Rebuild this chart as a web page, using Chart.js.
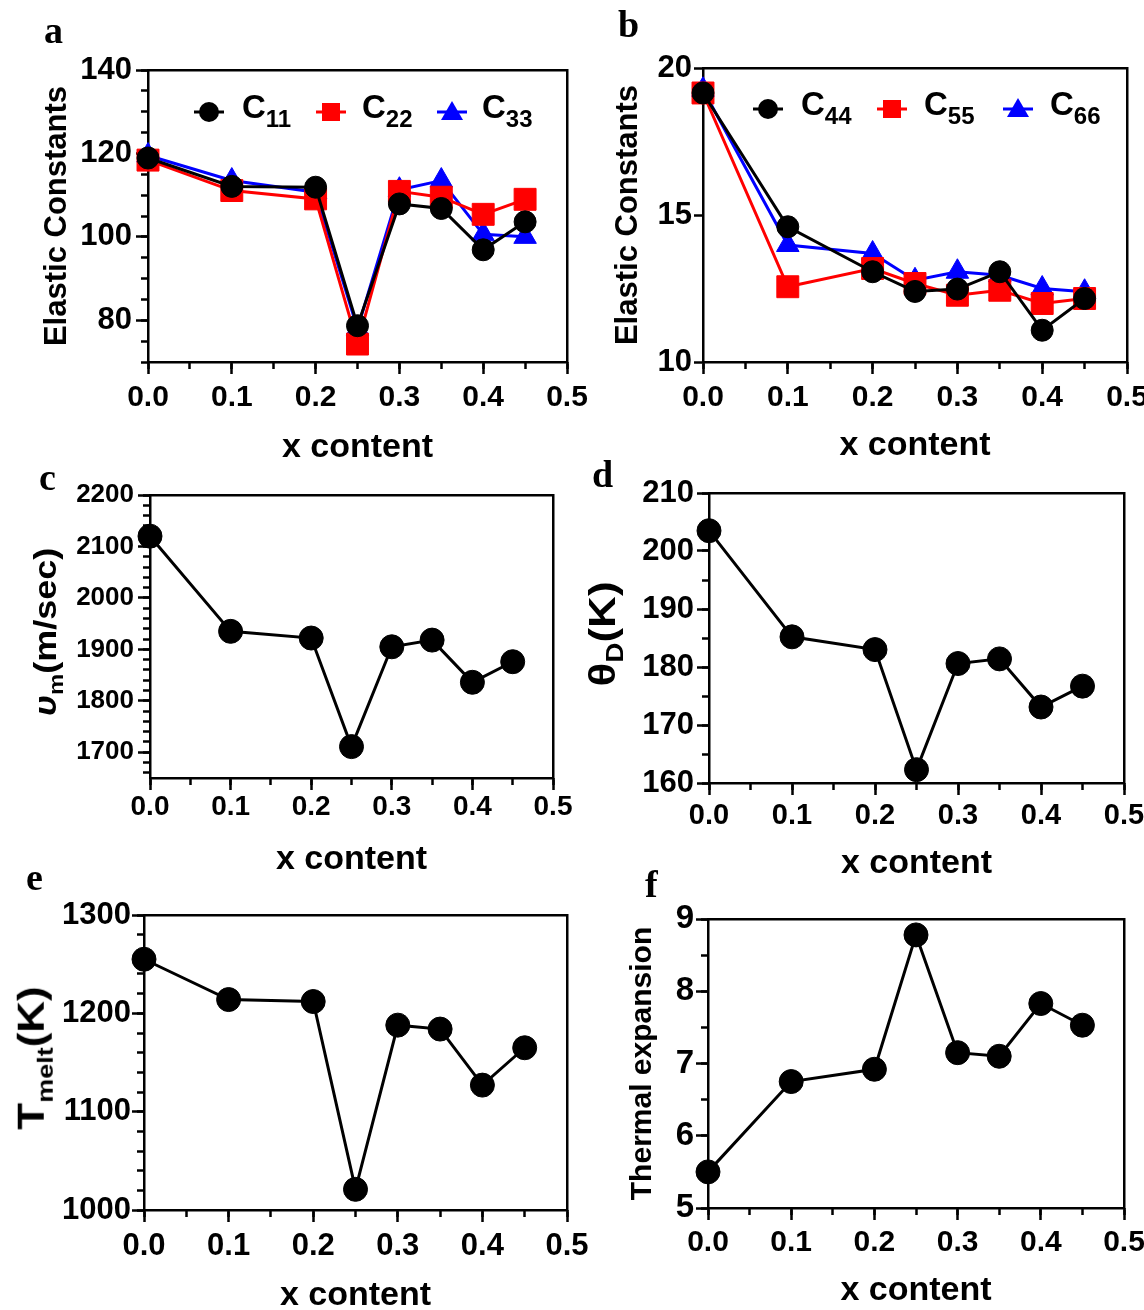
<!DOCTYPE html>
<html>
<head>
<meta charset="utf-8">
<script src="https://cdn.jsdelivr.net/npm/chart.js@4.4.1/dist/chart.umd.min.js"></script>
<style>
  html, body { margin:0; padding:0; background:#fff; overflow:hidden; }
  #page { position:relative; width:1144px; height:1310px; font-family:"Liberation Sans", Arial, sans-serif; font-weight:bold; color:#000; }
  .pane { position:absolute; }
  .pane canvas { display:block; }
  .tag { position:absolute; font-family:"Liberation Serif", "Times New Roman", serif; font-weight:bold; font-size:38px; line-height:38px; }
  .mk { position:absolute; line-height:0; }
  .lg { position:absolute; font-size:33px; line-height:33px; white-space:nowrap; }
  .lg .sub { font-size:24px; position:relative; top:9px; }
  .ytitle { position:absolute; white-space:nowrap; line-height:1; }
  .sub { position:relative; }
</style>
</head>
<body>
<div id="page">
  <div class="pane" style="left:0;top:0"><canvas id="ca" width="600" height="480"></canvas></div>
  <div class="pane" style="left:570px;top:0"><canvas id="cb" width="574" height="480"></canvas></div>
  <div class="pane" style="left:0;top:470px"><canvas id="cc" width="600" height="420"></canvas></div>
  <div class="pane" style="left:570px;top:470px"><canvas id="cd" width="574" height="420"></canvas></div>
  <div class="pane" style="left:0;top:880px"><canvas id="ce" width="600" height="440"></canvas></div>
  <div class="pane" style="left:570px;top:880px"><canvas id="cf" width="574" height="440"></canvas></div>

  <div class="tag" style="left:44px;top:11px">a</div>
  <div class="tag" style="left:618px;top:5px">b</div>
  <div class="tag" style="left:39px;top:458px">c</div>
  <div class="tag" style="left:592px;top:455px">d</div>
  <div class="tag" style="left:26px;top:858px">e</div>
  <div class="tag" style="left:645px;top:865px">f</div>

  <!-- legend a -->
  <div class="mk" style="left:194px;top:100px"><svg width="30" height="24"><line x1="0" y1="12" x2="30" y2="12" stroke="#000" stroke-width="3"/><circle cx="15" cy="12" r="10" fill="#000"/></svg></div>
  <div class="lg" style="left:242px;top:90px">C<span class="sub">11</span></div>
  <div class="mk" style="left:316px;top:100px"><svg width="30" height="24"><line x1="0" y1="12" x2="30" y2="12" stroke="#f00" stroke-width="3"/><rect x="6" y="3" width="18" height="18" fill="#f00"/></svg></div>
  <div class="lg" style="left:362px;top:90px">C<span class="sub">22</span></div>
  <div class="mk" style="left:437px;top:100px"><svg width="30" height="24"><line x1="0" y1="12" x2="30" y2="12" stroke="#00f" stroke-width="3"/><polygon points="15,1 4,20 26,20" fill="#00f"/></svg></div>
  <div class="lg" style="left:482px;top:90px">C<span class="sub">33</span></div>

  <!-- legend b -->
  <div class="mk" style="left:753px;top:97px"><svg width="30" height="24"><line x1="0" y1="12" x2="30" y2="12" stroke="#000" stroke-width="3"/><circle cx="15" cy="12" r="10" fill="#000"/></svg></div>
  <div class="lg" style="left:801px;top:87px">C<span class="sub">44</span></div>
  <div class="mk" style="left:877px;top:97px"><svg width="30" height="24"><line x1="0" y1="12" x2="30" y2="12" stroke="#f00" stroke-width="3"/><rect x="6" y="3" width="18" height="18" fill="#f00"/></svg></div>
  <div class="lg" style="left:924px;top:87px">C<span class="sub">55</span></div>
  <div class="mk" style="left:1003px;top:97px"><svg width="30" height="24"><line x1="0" y1="12" x2="30" y2="12" stroke="#00f" stroke-width="3"/><polygon points="15,1 4,20 26,20" fill="#00f"/></svg></div>
  <div class="lg" style="left:1050px;top:87px">C<span class="sub">66</span></div>

  <!-- y titles with subscripts -->
  <div class="ytitle" style="left:46px;top:632px;font-size:36px;transform:translate(-50%,-50%) rotate(-90deg) scaleY(0.85)"><i>υ</i><span class="sub" style="font-size:24px;top:8px">m</span>(m/sec)</div>
  <div class="ytitle" style="left:602px;top:634px;font-size:44px;transform:translate(-50%,-50%) rotate(-90deg) scaleY(0.85)">θ<span class="sub" style="font-size:28px;top:10px">D</span>(K)</div>
  <div class="ytitle" style="left:31px;top:1058px;font-size:44px;transform:translate(-50%,-50%) rotate(-90deg) scaleY(0.85)">T<span class="sub" style="font-size:27px;top:10px">melt</span>(K)</div>
</div>

<script>
const xContent = [0, 0.1, 0.2, 0.25, 0.3, 0.35, 0.4, 0.45];
const xTickLabels = ["0.0", "0.1", "0.2", "0.3", "0.4", "0.5"];

const c11 = [118.9, 112.1, 111.9, 78.7, 107.9, 106.8, 96.9, 103.6];
const c22 = [118.4, 111.1, 109.1, 74.3, 110.9, 109.5, 105.4, 109.0];
const c33 = [119.5, 113.5, 110.7, 78.0, 111.3, 113.5, 100.6, 100.0];

const c44 = [19.15, 14.6, 13.07, 12.4, 12.48, 13.07, 11.08, 12.16];
const c55 = [19.15, 12.56, 13.18, 12.67, 12.27, 12.44, 11.99, 12.16];
const c66 = [19.26, 13.98, 13.69, 12.78, 13.07, 12.95, 12.5, 12.39];

const soundVel = [2120, 1935, 1922, 1711, 1905, 1918, 1836, 1876];
const debyeT   = [203.5, 185.2, 183.0, 162.3, 180.6, 181.4, 173.1, 176.7];
const meltT    = [1255, 1214, 1212, 1021, 1188, 1184, 1127, 1165];
const thermExp = [5.5, 6.75, 6.92, 8.78, 7.15, 7.1, 7.83, 7.53];

const FONT = '"Liberation Sans", Arial, sans-serif';

function series(label, ys, color, shape, r){
  return {
    label, data: xContent.map((x, i) => ({ x, y: ys[i] })),
    borderColor: color, backgroundColor: color, borderWidth: 3,
    pointStyle: shape, pointRadius: r, pointBorderWidth: 1,
    pointBackgroundColor: color, pointBorderColor: color,
    tension: 0, clip: false, xAxisID: "x", yAxisID: "y"
  };
}

function font(size){ return { family: FONT, weight: "bold", size, lineHeight: 1 }; }

// o.area = [left, top, right, bottom] of plot box inside the canvas
function makePanel(id, datasets, o){
  const canvas = document.getElementById(id);
  const W = canvas.width, H = canvas.height;
  const a = o.area;
  const line = { display: true, color: "#000", width: 2.5 };
  const tickGrid = len => ({ display: true, drawOnChartArea: false, drawTicks: true, tickLength: len, tickColor: "#000", tickWidth: 2.5 });

  const scales = {
    x: {
      type: "linear", position: "bottom", weight: 1, min: 0, max: 0.5,
      border: line, grid: tickGrid(12),
      ticks: { stepSize: 0.1, padding: o.xPad, color: "#000", font: font(o.xSize), maxRotation: 0, autoSkip: false,
               callback: v => xTickLabels[Math.round(v * 10)] },
      title: { display: true, text: "x content", color: "#000", font: font(34), padding: { top: 0, bottom: o.xTitlePad } },
      afterFit: s => { s.height = H - a[3]; s.paddingLeft = 0; s.paddingRight = 0; }
    },
    xm: {
      type: "linear", axis: "x", position: "bottom", weight: 0, min: 0, max: 0.5,
      border: { display: false }, grid: tickGrid(7), ticks: { display: false, stepSize: 0.05 },
      afterFit: s => { s.height = 0; s.paddingLeft = 0; s.paddingRight = 0; }
    },
    y: {
      type: "linear", position: "left", weight: 1, min: o.yMin, max: o.yMax,
      border: line, grid: tickGrid(o.yTick || 12),
      ticks: { stepSize: o.yStep, includeBounds: false, padding: o.yPad, color: "#000", font: font(o.ySize),
               callback: v => String(Math.round(v)) },
      title: o.yTitle
        ? { display: true, text: o.yTitle, color: "#000", font: font(o.yTitleSize), padding: { top: o.yTitleX - o.yTitleSize / 2, bottom: 0 } }
        : { display: false },
      afterFit: s => { s.width = a[0]; }
    },
    x2: {
      type: "linear", axis: "x", position: "top", min: 0, max: 0.5,
      border: line, grid: { display: false }, ticks: { display: false },
      afterFit: s => { s.height = 0; s.paddingLeft = 0; s.paddingRight = 0; }
    },
    y2: {
      type: "linear", axis: "y", position: "right", min: o.yMin, max: o.yMax,
      border: line, grid: { display: false }, ticks: { display: false },
      afterFit: s => { s.width = 0; }
    }
  };
  if (o.yMinor){
    scales.ym = {
      type: "linear", axis: "y", position: "left", weight: 0, min: o.yMin, max: o.yMax,
      border: { display: false }, grid: tickGrid(7), ticks: { display: false, stepSize: o.yMinor, includeBounds: false },
      afterFit: s => { s.width = 0; }
    };
  }

  return new Chart(canvas.getContext("2d"), {
    type: "line",
    data: { datasets },
    options: {
      responsive: false, animation: false, devicePixelRatio: 1, events: [],
      layout: { padding: { left: 0, top: a[1], right: W - a[2], bottom: 0 } },
      plugins: { legend: { display: false }, tooltip: { enabled: false } },
      scales
    }
  });
}

makePanel("ca", [
  series("C11", c11, "#000", "circle", 11),
  series("C22", c22, "#f00", "rect", 15.5),
  series("C33", c33, "#00f", "triangle", 13)
], { area: [148, 70, 567, 362], yMin: 70, yMax: 140, yStep: 20, yMinor: 5, ySize: 31, yPad: 4,
     yTitle: "Elastic Constants", yTitleSize: 31, yTitleX: 57,
     xSize: 30, xPad: 9, xTitlePad: 15 });

makePanel("cb", [
  series("C44", c44, "#000", "circle", 11),
  series("C55", c55, "#f00", "rect", 15.5),
  series("C66", c66, "#00f", "triangle", 13)
], { area: [133, 68, 557, 362], yMin: 10, yMax: 20, yStep: 5, ySize: 31, yPad: 2, yTick: 9,
     yTitle: "Elastic Constants", yTitleSize: 31, yTitleX: 58,
     xSize: 30, xPad: 9, xTitlePad: 17 });

makePanel("cc", [ series("vm", soundVel, "#000", "circle", 12) ],
  { area: [150, 25, 553, 308], yMin: 1650, yMax: 2200, yStep: 100, yMinor: 20, ySize: 26, yPad: 4,
    xSize: 28, xPad: 3, xTitlePad: 13 });

makePanel("cd", [ series("thetaD", debyeT, "#000", "circle", 12) ],
  { area: [139, 23, 554, 313], yMin: 160, yMax: 210, yStep: 10, yMinor: 5, ySize: 31, yPad: 3,
    xSize: 29, xPad: 6, xTitlePad: 9 });

makePanel("ce", [ series("Tmelt", meltT, "#000", "circle", 12) ],
  { area: [144, 35, 567, 330], yMin: 1000, yMax: 1300, yStep: 100, yMinor: 20, ySize: 31, yPad: 1,
    xSize: 31, xPad: 9, xTitlePad: 7 });

makePanel("cf", [ series("alpha", thermExp, "#000", "circle", 12) ],
  { area: [138, 39, 554, 328], yMin: 5, yMax: 9, yStep: 1, yMinor: 0.5, ySize: 33, yPad: 2,
    yTitle: "Thermal expansion", yTitleSize: 30, yTitleX: 73,
    xSize: 30, xPad: 8, xTitlePad: 12 });
</script>
</body>
</html>
